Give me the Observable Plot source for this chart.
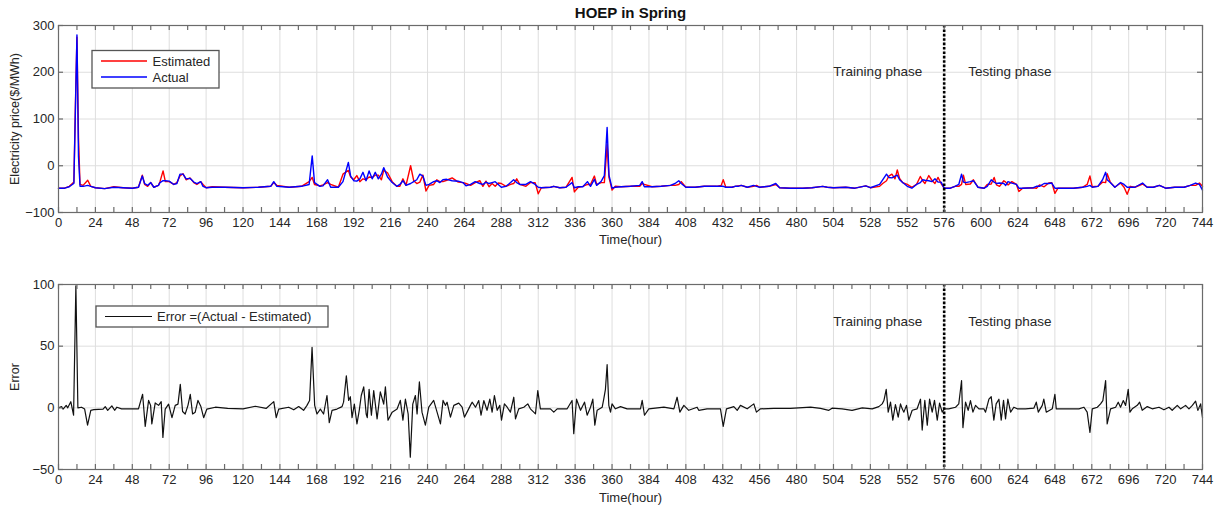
<!DOCTYPE html>
<html><head><meta charset="utf-8">
<script src="https://cdn.jsdelivr.net/npm/d3@7"></script>
<script src="https://cdn.jsdelivr.net/npm/@observablehq/plot@0.6"></script>
<style>
body{margin:0;background:#fff;}
#wrap{position:relative;width:1219px;height:505px;font-family:"Liberation Sans",Arial,sans-serif;overflow:hidden;}
#top{position:absolute;left:0;top:0;}
#bottom{position:absolute;left:0;top:259px;}
#legends{position:absolute;left:0;top:0;pointer-events:none;}
</style></head>
<body><div id="wrap"><div id="top"></div><div id="bottom"></div>
<svg id="legends" width="1219" height="505"></svg></div>
<script>
// ---- data ----
const titleText = "HOEP in Spring";
const xTickLabels = [0,24,48,72,96,120,144,168,192,216,240,264,288,312,336,360,384,408,432,456,480,504,528,552,576,600,624,648,672,696,720,744];
const priceTicks = [-100,0,100,200,300];
const errorTicks = [-50,0,50,100];
const phaseBoundary = 576;
const phaseLabels = ["Training phase","Testing phase"];
const seriesNames = ["Estimated","Actual"];
const errorName = "Error =(Actual - Estimated)";

const priceHours = [0,4,7,9,10,11,12,13,14,16,19,21,24,30,36,42,48,52,54.5,56,58,60,62,65,66,68,69.5,72,75,77,79,81,83,85.5,88,90,92.5,94,96,100,108,120,130,138,140,142,150,158,163,165,166.5,170,172,175,177,182,185,188.5,190,192,194,196,198,200,202,204,206,208,210,211.5,214,217,220,222,224,226,229,231,233,235,237,239,241,244,246,248,250,252.5,256,260,263,265,268,271,274,276,278,280,282,284,286,288,291,294,296,298,300,304,307,310,312,314,320,322,326,330,334,335.5,338,341,344,346,348.5,350,353,355,356.8,358,360,362,366,372,378,379.6,381,386,392,398,401,403.4,405,408,414,420,428,431,432.3,434,438,440,442,444,448,452,454,456,462,466.5,469,476,484,490,497,500,504,512,518,525,528,534,536,538.5,540,542,544,545.5,547,549,552,555,558,560.5,562,563.5,566,568,570,572,574,576,580,583,585.5,587.3,588.5,590,593,595,598,602,604,606.6,608.5,610,612,614.8,616,617.5,620,623,624.6,627,634,636,638,641,644,646,648,650,660,666,669,670.8,672.3,676,679,681,682,684,687,690.7,693,695,697,700,705,708,712,716,720,726,732,736,739.5,742,744];
const actualPrice = [-48,-48,-45,-40,-38,120,280,20,-44,-44,-42,-44,-47,-49,-46,-47,-48,-46,-22,-38,-42,-36,-46,-42,-36,-32,-32,-33,-40,-38,-18,-18,-28,-27,-35,-38,-34,-44,-47,-46,-46,-47,-46,-44,-34,-44,-46,-44,-40,21,-36,-44,-43,-30,-46,-46,-34,7,-22,-32,-33,-28,-14,-32,-11,-28,-14,-28,-18,-4,-24,-36,-44,-40,-32,-42,-38,-34,-30,-18,-22,-42,-40,-34,-32,-36,-30,-29,-32,-33,-36,-43,-40,-34,-38,-40,-35,-38,-36,-34,-40,-46,-44,-36,-30,-36,-40,-40,-34,-40,-46,-47,-46,-44,-47,-46,-36,-47,-45,-45,-34,-44,-29,-42,-33,-21,82,-20,-48,-46,-45,-44,-42,-34,-45,-45,-44,-42,-38,-32,-38,-46,-46,-44,-44,-44,-44,-46,-46,-44,-44,-42,-46,-42,-44,-46,-44,-38,-47,-48,-48,-47,-44,-46,-47,-46,-48,-43,-47,-40,-30,-18,-25,-26,-22,-20,-30,-36,-44,-48,-40,-36,-30,-31,-32,-34,-28,-35,-35,-48,-48,-44,-40,-18,-35,-36,-34,-32,-46,-48,-44,-30,-35,-38,-37,-38,-42,-34,-37,-40,-48,-48,-47,-44,-44,-38,-38,-37,-48,-48,-48,-46,-44,-42,-46,-44,-30,-14,-30,-36,-46,-36,-40,-46,-46,-46,-37,-46,-46,-42,-48,-46,-46,-42,-37,-40,-52];
const estimatedPrice = [-48,-48,-44,-38,-35,130,275,60,-40,-42,-31,-44,-47,-49,-45,-47,-48,-46,-20,-40,-44,-36,-46,-42,-34,-11,-34,-34,-40,-36,-22,-17,-30,-26,-36,-40,-34,-40,-47,-45,-46,-47,-46,-44,-36,-42,-46,-44,-34,-25,-40,-43,-41,-36,-40,-46,-18,-10,-24,-30,-21,-34,-28,-30,-24,-25,-20,-20,-30,-10,-15,-34,-44,-44,-28,-42,0,-32,-38,-35,-20,-54,-42,-40,-30,-34,-34,-31,-26,-35,-36,-38,-42,-36,-32,-44,-33,-45,-38,-44,-37,-38,-44,-40,-38,-28,-40,-44,-36,-36,-60,-47,-46,-44,-47,-46,-25,-56,-46,-44,-40,-40,-22,-40,-36,-36,45,-25,-52,-44,-45,-44,-44,-38,-40,-45,-44,-42,-42,-40,-34,-46,-46,-44,-44,-42,-30,-46,-46,-44,-43,-42,-46,-44,-42,-46,-44,-40,-47,-48,-48,-47,-44,-46,-47,-46,-48,-43,-47,-44,-38,-32,-22,-18,-28,-9,-27,-36,-40,-46,-40,-23,-32,-38,-21,-31,-38,-25,-38,-48,-48,-44,-44,-40,-20,-40,-39,-30,-46,-48,-40,-39,-25,-41,-44,-32,-35,-41,-34,-40,-55,-48,-47,-48,-41,-45,-37,-36,-59,-48,-48,-46,-40,-22,-45,-44,-35,-36,-17,-35,-46,-37,-46,-61,-44,-46,-39,-46,-46,-42,-48,-46,-46,-42,-42,-37,-44];

const errorHours = [0,2,3,5,6,8,9.8,11.3,12.6,15,17,18.9,21,23,29,30.4,32,34.7,36.5,38,41,52,54.7,56.4,58.6,59.9,60.7,62.9,65.1,66.8,67.9,69.4,71.6,73.8,75.9,77.7,79.2,80.7,82.4,84.2,85.7,87.2,88.9,90.7,92.6,94.4,96.5,102,110,120,128,135,140,141.6,143.2,149.7,153,156.2,159.4,161.6,163.3,164.9,166.6,168.1,170.3,172.4,174.6,176.1,177.9,181.1,184.4,185.4,187.2,188.7,189.8,190.9,192.4,194.1,195.6,196.9,198.5,200.1,200.8,202,203.5,205,207.2,209.3,211.5,212.6,214.3,217,220.2,222.3,224,225.6,227.4,228.8,230.4,232.1,233.2,234.7,236.4,238.6,240.8,244,246.2,248.4,250.1,251.6,252.7,254.9,257.1,260.3,262.5,264,265.7,267.9,269,271.2,273.3,274.8,276.6,278.7,280.5,282,283.5,285.3,287,288.1,290,291.8,293.9,296.1,297.2,299.3,302.6,305.2,306.9,310.2,311.7,313.4,319.9,322.1,324.3,330.8,334,335.1,336.9,339.5,342.1,343.8,346,347.5,348.8,350.3,353.6,354.6,355.7,356.8,357.9,359,360,362.2,365.5,369.8,378.5,379.6,381.1,383.9,393.7,400.2,402.3,404.1,406.7,409.9,415.3,416.4,421.8,430.5,432.3,434.4,439.2,441.4,443.5,447.9,452.2,453.9,456.5,465.2,476,489.1,495.6,501,503.1,509.6,516.1,522.7,529.2,533.5,535.7,536.8,538.3,539.6,541.1,542.6,544.3,546.1,547.6,548.7,549.8,551.5,553,555.2,558.4,560.6,561.7,563.4,565,566.5,568.2,569.7,571.5,573,574.7,576,579,583.4,585.5,587.3,588.2,589.9,591.6,593.1,594.7,596.4,598.6,601.8,602.9,605.1,606.6,608.3,609.8,611.6,613.1,614.6,615.9,617.4,619.2,621.3,623.5,628.9,634.3,635.9,637.2,639.8,640.8,642.4,646.3,648,648.9,655,663.6,666.9,669,670.8,672.3,675.6,677.7,679.2,681,682,684.2,687.5,689.2,690.7,692.5,694,695.7,696.8,698.3,701.6,703.1,704.8,708.1,711.3,715.7,718.9,722.2,724.3,727.6,729.8,733,735.2,737.4,739.5,741,742.8,744];
const errorValues = [0,1,-1,2,0,5,-6,99,0,0.5,-1,-14,-2,-1.5,-1,1,-2,1.6,-2,0.5,-0.8,-0.8,11,-15,6,2,-13,4,2,5,-24,-1,3,-8,2,3,19,-3,-5,2,11,-5,-3.5,6,1,-8,-1,0.5,-0.5,-0.8,1.3,-0.5,5,-8,-1,0.5,-1.6,1,-2,2,6,49,2,-5,-1,-5,10,-12,-2,-1,1,4.6,26,6,9,-8,3,-13,-2,10,17,-5,-8,15,-6,14,-9,13,3,17,-10,-3.5,-1,6,-10,7,-5,-40,3,10,-5,21,-3.5,-14,0.5,6,-3.5,-13,6,2,4.6,-7.6,2,3.8,0.5,-7.6,-3.5,2,4.6,0.5,5.9,-6,5.9,-2,7,-3.5,10,-2,2,-10,3.2,0.5,-3.5,8.6,-9,-0.8,0.5,3.2,-0.8,-4.9,14,-0.8,-0.8,-3.5,-0.8,-0.8,6,-21,7,-2,4.6,-6,0.5,7,-14,-2,0.5,7,15,35,2,-3.5,3.2,-0.8,1,-0.8,-0.8,6,-6,-0.8,0.5,-0.8,8.6,-3.5,2,-2,0.5,-2,-0.8,-0.8,-15,-0.8,1,-2,2,-0.8,3.2,-3.5,-0.8,-0.5,-0.5,0.5,-0.5,-2,-0.3,-0.8,-2,0,-0.8,1,3.2,5.9,15,-3.5,4.6,-10,2.7,-7.6,3.2,-0.8,-3.5,2,-10,-2,-0.8,7,-18,6,-14,7,-3.5,6,-10,3.8,-3.5,-0.8,-0.8,0.5,3.2,22,-16,4.6,-2,5.9,-3.5,2,-0.8,-0.8,-3.5,7,9,-10,3.2,7,-10,6,-9,7,-3.5,0.5,-0.8,-0.8,-0.3,4.6,-3.5,2,7,-3.5,-0.8,11,-0.8,-0.8,-0.8,0.5,-3.5,-20,-0.8,0.5,3.2,5.9,22,-13,-0.8,0.5,4.6,0.5,5.9,2,15,-3.5,-0.8,2,4.6,-2,1,-0.8,0.5,-1.6,0.5,-2,2,-0.8,2,-0.8,2,5.4,-2,3.2,-8];

// ---- build ----
const FONT = '"Liberation Sans", Arial, sans-serif';
const GRID = "#dedede", FRAME = "#6b6b6b", TXT = "#262626";
const xTickMarks = d3.range(0, 745, 12);
const priceData = priceHours.map((h, i) => ({h, actual: actualPrice[i], est: estimatedPrice[i]}));
const errorData = errorHours.map((h, i) => ({h, v: errorValues[i]}));

function panel({height, marginTop, marginBottom, yDomain, yTicks, yRightTicks, yLabel, lines, labelDy, phaseDy, extra}) {
  const W = 1219, mL = 58, mR = 17;
  const fw = W - mL - mR, fh = height - marginTop - marginBottom;
  return Plot.plot({
    width: W, height, marginLeft: mL, marginRight: mR, marginTop, marginBottom,
    x: {domain: [0, 744]}, y: {domain: yDomain},
    style: {fontFamily: FONT, fontSize: "13px", color: TXT, background: "white", overflow: "visible"},
    marks: [
      Plot.ruleX(xTickLabels, {x: d => d, stroke: GRID, strokeWidth: 1}),
      Plot.ruleY(yTicks.slice(1, -1), {y: d => d, stroke: GRID, strokeWidth: 1}),
      ...lines,
      Plot.ruleX([phaseBoundary], {x: d => d, stroke: "black", strokeWidth: 2.6, strokeDasharray: "2.6,1.8"}),
      Plot.text([phaseBoundary], {x: d => d, text: () => phaseLabels[0], frameAnchor: "top", lineAnchor: "middle", dy: phaseDy, dx: -22, textAnchor: "end", fontSize: 13.5, fill: TXT}),
      Plot.text([phaseBoundary], {x: d => d, text: () => phaseLabels[1], frameAnchor: "top", lineAnchor: "middle", dy: phaseDy, dx: 24, textAnchor: "start", fontSize: 13.5, fill: TXT}),
      // inward tick marks (MATLAB style)
      Plot.ruleX(xTickMarks, {x: d => d, insetTop: fh - 5, stroke: FRAME, strokeWidth: 1.2}),
      Plot.ruleX(xTickMarks, {x: d => d, insetBottom: fh - 5, stroke: FRAME, strokeWidth: 1.2}),
      Plot.ruleY(yTicks, {y: d => d, insetRight: fw - 5, stroke: FRAME, strokeWidth: 1.2}),
      Plot.ruleY(yRightTicks, {y: d => d, insetLeft: fw - 5, stroke: FRAME, strokeWidth: 1.2}),
      Plot.axisX(xTickLabels, {anchor: "bottom", tickSize: 0, tickPadding: 5, label: null, fontSize: 13}),
      Plot.axisY(yTicks, {anchor: "left", tickSize: 0, tickPadding: 4, label: null, fontSize: 13}),
      Plot.frame({stroke: FRAME, strokeWidth: 1.2}),
      Plot.text(["Time(hour)"], {text: d => d, frameAnchor: "bottom", lineAnchor: "middle", dy: labelDy, fontSize: 13, fill: TXT}),
      Plot.text([yLabel], {text: d => d, frameAnchor: "left", dx: -44, rotate: -90, textAnchor: "middle", fontSize: 12.5, fill: TXT}),
      ...(extra || [])
    ]
  });
}

const topPlot = panel({
  height: 250, marginTop: 25, marginBottom: 38,
  yDomain: [-100, 300], yTicks: priceTicks, yRightTicks: [0, 100, 200],
  yLabel: "Electricity price($/MWh)", labelDy: 27, phaseDy: 46,
  lines: [
    Plot.line(priceData, {x: "h", y: "est", stroke: "#ff0000", strokeWidth: 1.4}),
    Plot.line(priceData, {x: "h", y: "actual", stroke: "#0000ff", strokeWidth: 1.4})
  ],
  extra: [Plot.text([titleText], {text: d => d, frameAnchor: "top", lineAnchor: "middle", dy: -12, fontWeight: "bold", fontSize: 15, fill: "#111"})]
});
document.getElementById("top").appendChild(topPlot);

const bottomPlot = panel({
  height: 246, marginTop: 25, marginBottom: 36,
  yDomain: [-50, 100], yTicks: errorTicks, yRightTicks: [0, 50],
  yLabel: "Error", labelDy: 28, phaseDy: 37,
  lines: [Plot.line(errorData, {x: "h", y: "v", stroke: "#111", strokeWidth: 1.2})]
});
document.getElementById("bottom").appendChild(bottomPlot);

// ---- legends ----
const lg = d3.select("#legends").style("font-family", FONT);
const l1 = lg.append("g");
l1.append("rect").attr("x", 92).attr("y", 50.5).attr("width", 127).attr("height", 37.5).attr("fill", "white").attr("stroke", "#555").attr("stroke-width", 1.3);
[["#ff0000", 61], ["#0000ff", 77]].forEach(([c, y], i) => {
  l1.append("line").attr("x1", 101).attr("x2", 147).attr("y1", y).attr("y2", y).attr("stroke", c).attr("stroke-width", 1.4);
  l1.append("text").attr("x", 152.5).attr("y", y).attr("dy", "0.35em").attr("font-size", 13).attr("fill", TXT).text(seriesNames[i]);
});
const l2 = lg.append("g");
l2.append("rect").attr("x", 96).attr("y", 306).attr("width", 232).attr("height", 21).attr("fill", "white").attr("stroke", "#555").attr("stroke-width", 1.3);
l2.append("line").attr("x1", 105).attr("x2", 152).attr("y1", 316.5).attr("y2", 316.5).attr("stroke", "#111").attr("stroke-width", 1.2);
l2.append("text").attr("x", 157).attr("y", 316.5).attr("dy", "0.35em").attr("font-size", 13).attr("fill", TXT).text(errorName);
</script></body></html>
